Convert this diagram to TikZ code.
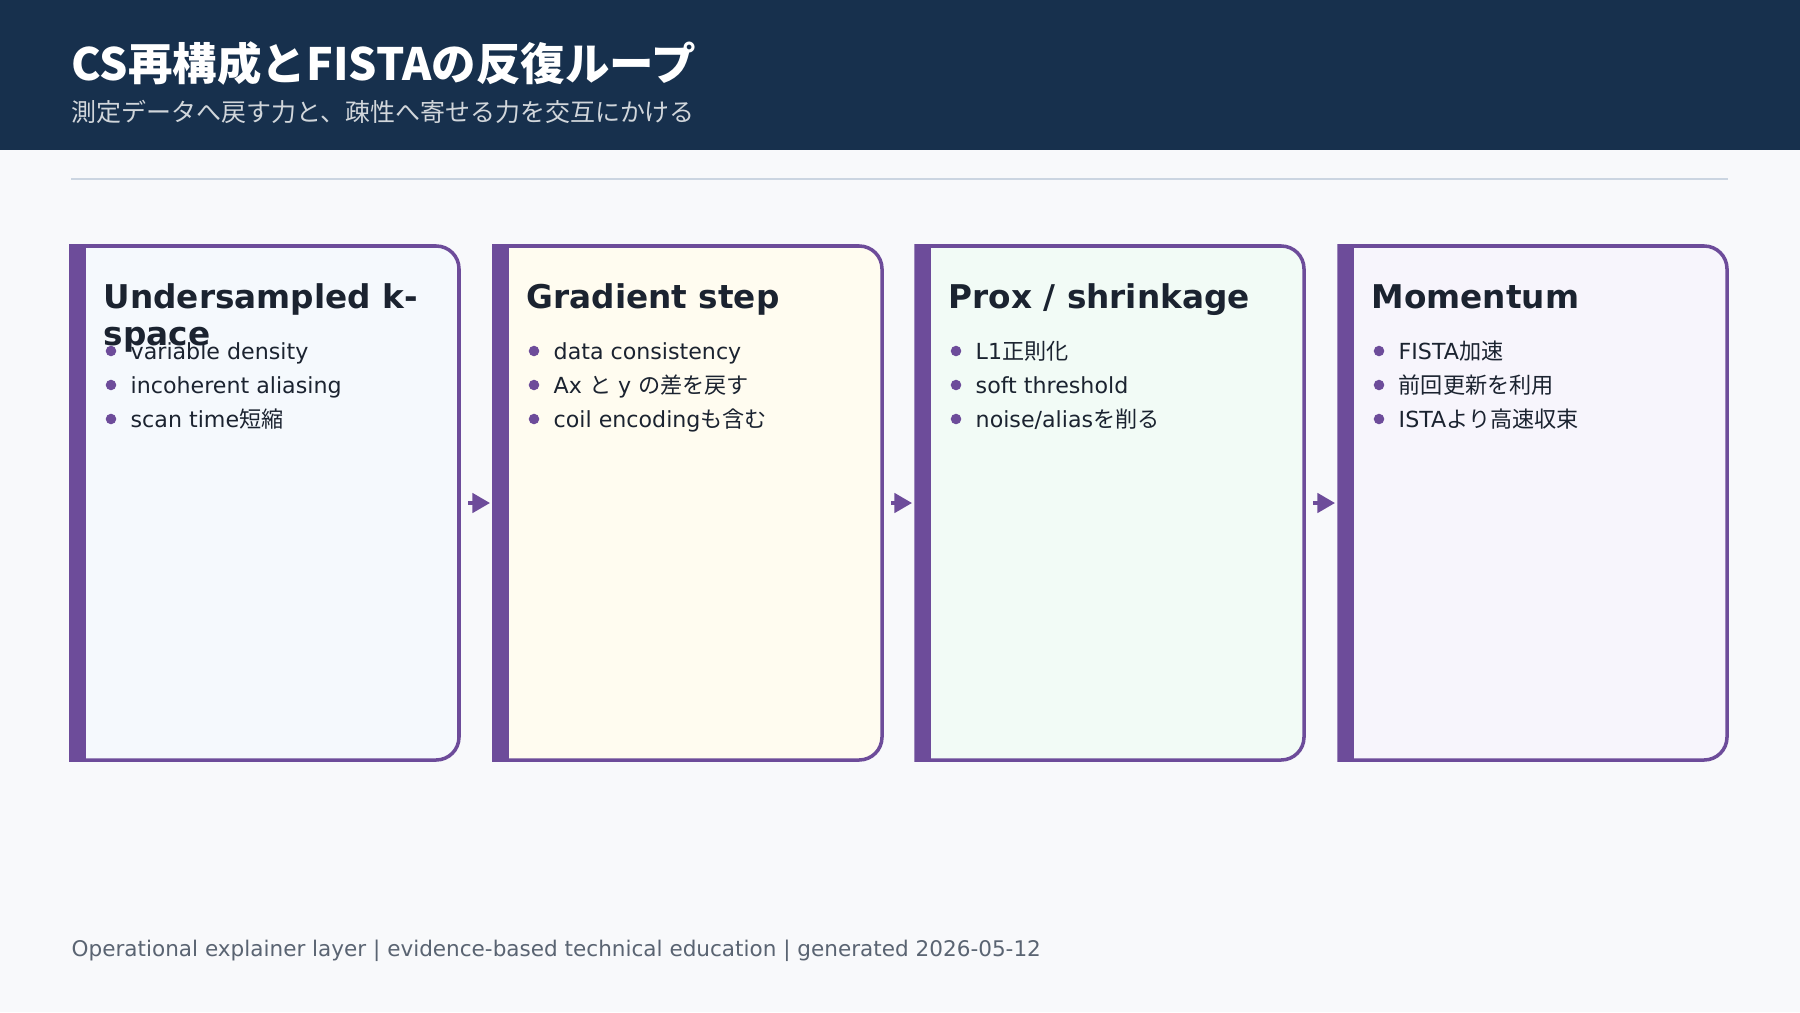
\documentclass[tikz,border=0pt]{standalone}
\usepackage{fontspec}
\setmainfont{DejaVu Sans}
\newfontfamily\cjk{Noto Sans CJK JP}
\usetikzlibrary{arrows.meta}
\definecolor{navy}{HTML}{17304D}
\definecolor{pagebg}{HTML}{F8F9FB}
\definecolor{purp}{HTML}{6D4C9A}
\definecolor{ink}{HTML}{1B2330}
\definecolor{greytext}{HTML}{5A6472}
\definecolor{rulecol}{HTML}{CBD5E1}
\definecolor{fillA}{HTML}{F5F9FD}
\definecolor{fillB}{HTML}{FFFCF0}
\definecolor{fillC}{HTML}{F2FBF6}
\definecolor{fillD}{HTML}{F7F5FC}
\tikzstyle{cardline} = [draw=purp,line width=1pt]
\tikzstyle{ctitle} = [anchor=base west,inner sep=0pt,text=ink,font=\fontsize{9.3}{11}\selectfont\bfseries]
\tikzstyle{item} = [anchor=base west,inner sep=0pt,text=ink,font=\fontsize{6.3}{8}\selectfont]
\tikzstyle{dot} = [circle,fill=purp,inner sep=0pt,minimum size=3pt]
\tikzstyle{arrow} = [purp,line width=1pt,-{Triangle[length=5pt,width=5.5pt]}]

\begin{document}
\begin{tikzpicture}[x=0.01cm,y=-0.01cm]
\fill[pagebg] (0,0) rectangle (1800,1012);
\fill[navy] (0,0) rectangle (1800,150);
\node (title) [anchor=base west,inner sep=0pt,text=white,font=\cjk\fontsize{12.65}{14}\selectfont\bfseries] at (71,80) {CS再構成とFISTAの反復ループ};
\node (sub) [anchor=base west,inner sep=0pt,text=white!80!navy,font=\cjk\fontsize{7.1}{8}\selectfont] at (71,121) {測定データへ戻す力と、疎性へ寄せる力を交互にかける};
\draw[rulecol,line width=0.8pt] (71,179) -- (1728,179);

\foreach \i/\L/\col in {1/71/fillA,2/494/fillB,3/916/fillC,4/1339/fillD}{
  \path[cardline,fill=\col] (\L,760) [rounded corners=6.5pt] -- (\L+388,760) -- (\L+388,246) [sharp corners] -- (\L,246) -- cycle;
  \fill[purp] (\L,246) rectangle (\L+15,760);
  \coordinate (c\i w) at (\L-4,503);
  \coordinate (c\i e) at (\L+397,503);
  \foreach \y in {351,385,419} \node[dot] at (\L+40,\y) {};
}

% card titles
\node (t1) [ctitle] at (103,308) {Undersampled k-};
\node (t1b) [ctitle] at (103,345) {space};
\node (t2) [ctitle] at (526,308) {Gradient step};
\node (t3) [ctitle] at (948,308) {Prox / shrinkage};
\node (t4) [ctitle] at (1371,308) {Momentum};

% bullets
\node (b11) [item] at (130,359) {variable density};
\node (b12) [item] at (130,393) {incoherent aliasing};
\node (b13) [item] at (130,427) {scan time{\cjk 短縮}};
\node (b21) [item] at (553,359) {data consistency};
\node (b22) [item] at (553,393) {Ax {\cjk と} y {\cjk の差を戻す}};
\node (b23) [item] at (553,427) {coil encoding{\cjk も含む}};
\node (b31) [item] at (975,359) {L1{\cjk 正則化}};
\node (b32) [item] at (975,393) {soft threshold};
\node (b33) [item] at (975,427) {noise/alias{\cjk を削る}};
\node (b41) [item] at (1398,359) {FISTA{\cjk 加速}};
\node (b42) [item] at (1398,393) {{\cjk 前回更新を利用}};
\node (b43) [item] at (1398,427) {ISTA{\cjk より高速収束}};

\draw [arrow] (c1e) -- (c2w);
\draw [arrow] (c2e) -- (c3w);
\draw [arrow] (c3e) -- (c4w);

\node (foot) [anchor=base west,inner sep=0pt,text=greytext,font=\fontsize{6.13}{8}\selectfont] at (71,956) {Operational explainer layer | evidence-based technical education | generated 2026-05-12};
\end{tikzpicture}
\end{document}
